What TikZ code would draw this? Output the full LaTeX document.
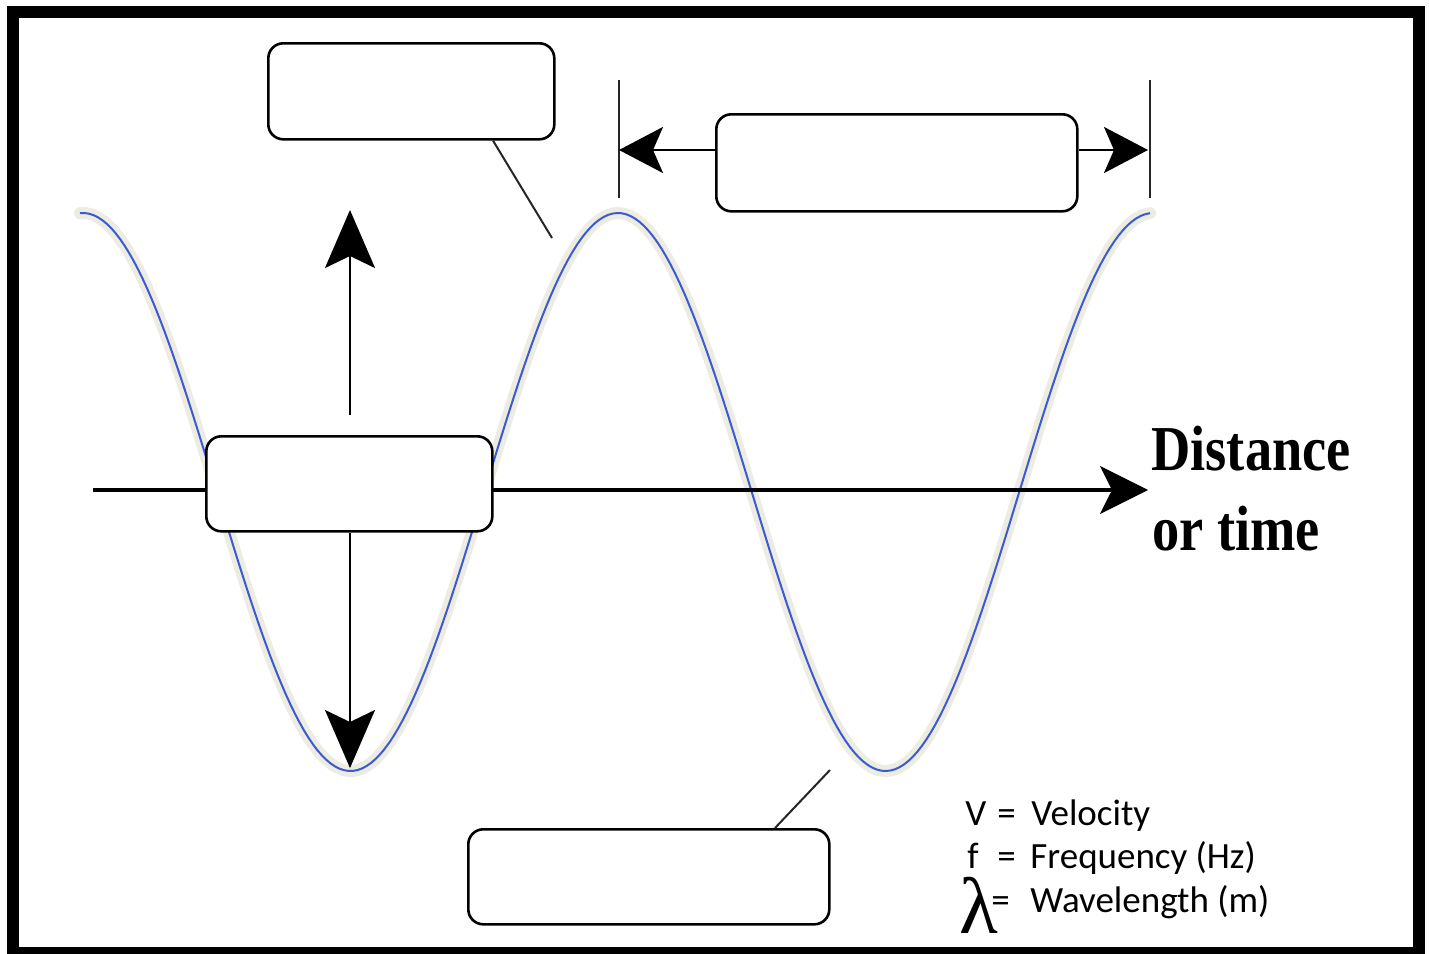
\documentclass[tikz,border=0pt]{standalone}
\usepackage{fontspec}
\setmainfont{Liberation Serif}
\newfontfamily\legendfont{Carlito}
\usetikzlibrary{arrows.meta}
\definecolor{wave}{RGB}{60,90,210}
\definecolor{halo}{RGB}{236,236,226}
\begin{document}
\begin{tikzpicture}[x=0.5pt,y=-0.5pt,
  lbox/.style={draw=black, line width=1.3pt, rounded corners=7.5pt, fill=white,
    inner sep=0pt, anchor=north west},
  vhead/.style={-{Stealth[length=29pt,width=25pt,inset=6pt]}},
  hhead/.style={-{Stealth[length=22pt,width=23pt,inset=5pt]}},
  ahead/.style={-{Stealth[length=24pt,width=24pt,inset=6pt]}},
  leader/.style={line width=1pt, black!85},
  tick/.style={line width=1pt, black!85},
  distfont/.style={font=\fontsize{32pt}{36pt}\selectfont\bfseries, inner sep=0pt, anchor=base west},
  legfont/.style={font=\legendfont\fontsize{18.5pt}{22pt}\selectfont, inner sep=0pt, anchor=base west}]
\useasboundingbox (0,0) rectangle (1429,953);
% frame
\draw[line width=6pt] (13,12) rectangle (1418.5,953);
% wave
\draw[halo, line width=6pt, line cap=round, domain=80:1150, samples=240]
  plot (\x, {492 - 279*cos((\x-618)/535*360)});
\draw[wave, line width=1pt, domain=80:1150, samples=240]
  plot (\x, {492 - 279*cos((\x-618)/535*360)});
% axis
\coordinate (axstart) at (93,490);
\coordinate (axtip) at (1148,490);
\draw[ahead, line width=1.6pt] (axstart) -- (axtip);
% vertical amplitude arrow
\coordinate (uptip) at (350,210);
\coordinate (dntip) at (350,768);
% wavelength ticks
\coordinate (lt) at (619,150);
\coordinate (rt) at (1148,150);
\coordinate (lttop) at (619,80);
\coordinate (ltbot) at (619,198);
\coordinate (rttop) at (1150,80);
\coordinate (rtbot) at (1150,198);
\draw[tick] (lttop) -- (ltbot);
\draw[tick] (rttop) -- (rtbot);
% boxes
\node[lbox, minimum width=143pt, minimum height=48pt] (b1) at (267,42) {};
\node[lbox, minimum width=180.5pt, minimum height=48.5pt] (b2) at (715,113) {};
\node[lbox, minimum width=143pt, minimum height=47.5pt] (b3) at (205,435) {};
\node[lbox, minimum width=180.5pt, minimum height=47.5pt] (b4) at (467,828) {};
% amplitude arrows from middle box
\draw[vhead, line width=1.1pt] ([yshift=10pt]b3.north -| uptip) -- (uptip);
\draw[vhead, line width=1.1pt] (b3.south -| dntip) -- (dntip);
% wavelength arrows from box 2
\draw[hhead, line width=1.4pt] (b2.west |- lt) -- (lt);
\draw[hhead, line width=1.4pt] (b2.east |- rt) -- (rt);
% leaders
\coordinate (l1end) at (552,238);
\coordinate (l4end) at (830,770);
\draw[leader] (b1.south -| 493,0) -- (l1end);
\draw[leader] (b4.north -| 775,0) -- (l4end);
% axis label
\node[distfont] (dist) at (1151,470) {\scalebox{0.85}[1]{Distance}};
\node[distfont] (ortime) at (1152,550) {\scalebox{0.85}[1]{or time}};
% legend
\node[legfont] (lv) at (965,825) {V};
\node[legfont] (lveq) at (997,825) {=};
\node[legfont] (lvt) at (1031,825) {Velocity};
\node[legfont] (lf) at (967,868) {f};
\node[legfont] (lfeq) at (997,868) {=};
\node[legfont] (lft) at (1030,868) {Frequency (Hz)};
\node[font=\fontsize{40pt}{44pt}\selectfont, inner sep=0pt, anchor=south west] (ll) at (959,934) {λ};
\node[legfont] (lleq) at (991,912) {=};
\node[legfont] (llt) at (1030,912) {Wavelength (m)};
\end{tikzpicture}
\end{document}
